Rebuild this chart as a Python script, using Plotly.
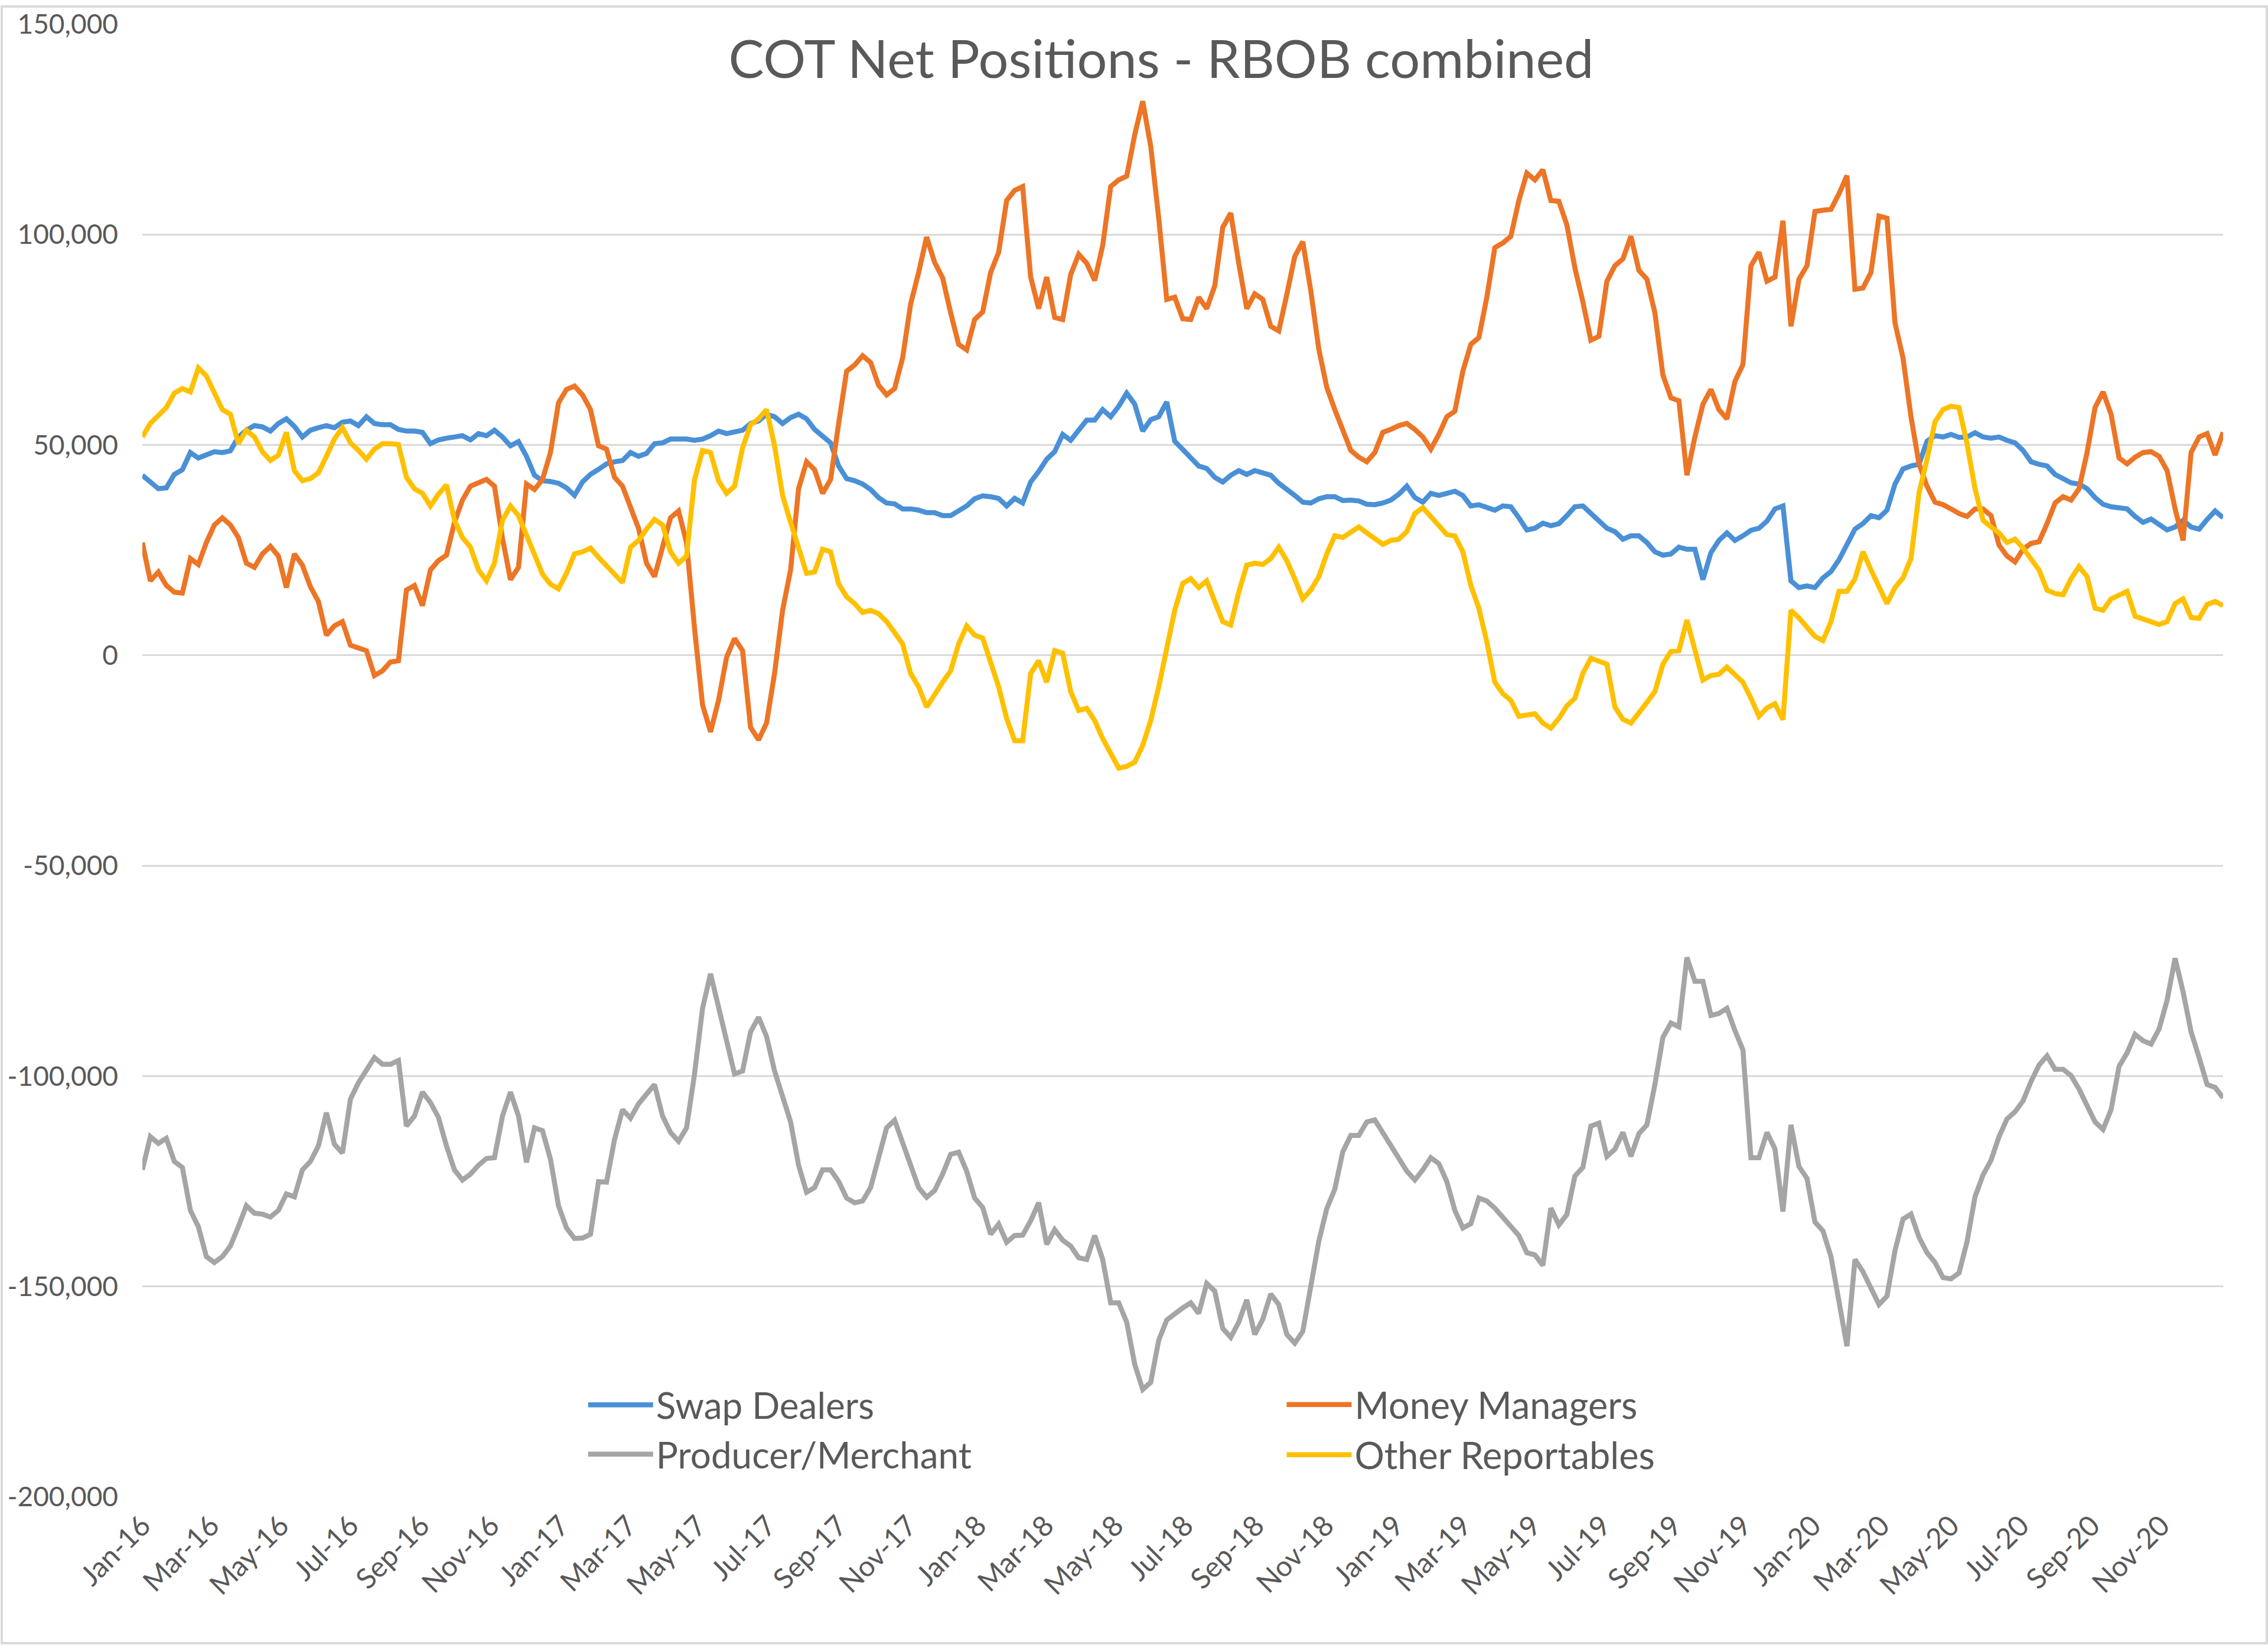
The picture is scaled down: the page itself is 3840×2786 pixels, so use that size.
import pandas as pd
import plotly.graph_objects as go

# Weekly COT report dates (Tuesdays)
start_date = "2016-01-05"
n_weeks = 261

# Net positions, in thousands of contracts
swap_dealers = [
    42.8, 41.2, 39.6, 39.8, 43, 44.1, 48.2, 46.9, 47.5, 48.4,
    48.2, 48.6, 51.9, 53.5, 54.6, 54.3, 53.3, 55.1, 56.2, 54.4,
    51.9, 53.5, 54.1, 54.6, 54.1, 55.4, 55.7, 54.6, 56.7, 55.1,
    54.8, 54.8, 53.7, 53.3, 53.3, 53, 50.3, 51.2, 51.6, 51.8,
    52.2, 51.2, 52.7, 52.2,
    53.5, 51.9, 49.8, 50.8, 47.3, 42.8, 41.5, 41.3, 40.9, 39.8,
    38, 41.2, 43, 44.2, 45.5, 46, 46.3, 48.2, 47.3, 48,
    50.3, 50.5, 51.4, 51.4, 51.4, 51.1, 51.4, 52.2, 53.3, 52.7,
    53, 53.5, 55.1, 55.7, 57.3, 56.7, 55.1, 56.5, 57.3, 56.2,
    53.7, 52.2, 50.5, 45,
    42, 41.5, 40.7, 39.4, 37.5, 36.2, 36, 34.8, 34.8, 34.5,
    33.9, 33.9, 33.2, 33.2, 34.5, 35.5, 37.2, 37.9, 37.7, 37.3,
    35.5, 37.3, 36.2, 41.2, 43.7, 46.6, 48.4, 52.5, 51.1, 53.7,
    55.9, 55.9, 58.4, 56.7, 59.2, 62.3, 59.7, 53.3, 56, 56.7,
    60.2, 50.9, 49,
    46.9, 45, 44.4, 42.3, 41.2, 42.8, 43.9, 43, 43.9, 43.4,
    42.8, 40.9, 39.6, 38, 36.4, 36.2, 37.2, 37.7, 37.7, 36.8,
    36.9, 36.7, 35.9, 35.8, 36.2, 36.9, 38.3, 40.2, 37.5, 36.4,
    38.5, 38, 38.5, 39, 38, 35.5, 35.8, 35.3, 34.5, 35.5,
    35.3, 32.7, 29.8,
    30.2, 31.4, 30.8, 31.3, 33.2, 35.3, 35.5, 33.7, 31.9, 30.2,
    29.4, 27.6, 28.4, 28.4, 26.8, 24.6, 23.8, 24.1, 25.7, 25.2,
    25.2, 18, 24.4, 27.3, 29.1, 27.3, 28.4, 29.7, 30.2, 31.9,
    34.8, 35.5, 17.7, 16.1, 16.5, 16.1, 18.4, 19.9, 22.7, 26.2,
    30, 31.3, 33.2, 32.7,
    34.5, 40.7, 44.3, 45, 45.4, 50.9, 52.2, 51.9, 52.5, 51.8,
    51.9, 52.9, 51.9, 51.6, 51.9, 51.1, 50.5, 48.7, 46, 45.4,
    45, 43, 41.9, 41, 40.7, 39.6, 37.5, 35.9, 35.3, 34.9,
    34.8, 33, 31.6, 32.4, 31, 29.8, 30.5, 32.1, 30.5, 30,
    32.3, 34.3, 32.7,
]

money_managers = [
    26.8, 17.7, 19.8, 16.6, 15, 14.8, 23, 21.6, 26.8, 31,
    32.7, 31, 28, 21.9, 20.9, 24.1, 25.9, 23.6, 16.1, 24.1,
    21.4, 16.3, 12.8, 4.8, 7, 8, 2.4, 1.6, 1.1, -4.8,
    -3.7, -1.6, -1.3, 15.5, 16.6, 11.8, 20.3, 22.5, 23.8, 31.6,
    36.9, 40.2, 40.9, 41.8,
    40.2, 27.8, 18, 20.9, 40.7, 39.4, 41.8, 48.2, 60, 63.2,
    64, 61.9, 58.4, 49.8, 49, 42.3, 40.2, 34.8, 30.2, 21.9,
    18.7, 25.7, 32.7, 34.3, 26.8, 6.4, -11.8, -18.2, -10.7, -0.5,
    4, 1.1, -17.1, -20.1, -16.1, -4.3, 10.7, 20.3, 39.6, 46,
    44.1, 38.5, 41.8, 55,
    67.5, 69, 71.2, 69.6, 64.2, 61.9, 63.4, 70.7, 83.5, 91,
    99.4, 93.4, 89.7, 81.4, 73.9, 72.6, 79.8, 81.6, 91, 95.8,
    108.1, 110.5, 111.4, 89.9, 82.4, 89.9, 80.3, 79.8, 90.5, 95.3,
    93.2, 89.1, 97.4, 111.4, 113, 113.9, 123.7, 131.7, 121, 103.9,
    84.6, 85.1, 80,
    79.8, 85.1, 82.4, 87.8, 101.7, 105.1, 93.2, 82.4, 85.9, 84.6,
    78.2, 77.1, 85.7, 94.8, 98.3, 86.7, 72.8, 63.7, 58.4, 53.3,
    48.7, 47.1, 46, 48.2, 53, 53.7, 54.6, 55.1, 53.7, 51.9,
    49, 52.5, 56.7, 58, 67.5, 73.9, 75.5, 85.1, 96.9, 98,
    99.6, 108.1, 114.6,
    113, 115.4, 108.1, 107.9, 102.3, 92.1, 84, 74.9, 75.8, 88.9,
    92.6, 94.2, 99.6, 91.5, 89.4, 81.4, 66.6, 61.2, 60.5, 42.8,
    51.9, 59.7, 63.2, 58.4, 56.2, 65.1, 69.1, 92.6, 95.8, 88.9,
    89.9, 103.3, 78.2, 89.4, 92.6, 105.5, 105.8, 106, 109.7, 114,
    87, 87.3, 91, 104.4,
    103.9, 79, 70.7, 56.7, 45.5, 40.2, 36.4, 35.8, 34.8, 33.7,
    33, 34.8, 34.8, 33.2, 26.2, 23.6, 22.2, 25.2, 26.6, 27,
    31.3, 36.2, 37.7, 36.9, 39.6, 48.2, 58.9, 62.6, 57.3, 46.9,
    45.5, 47.1, 48.2, 48.4, 47.3, 43.9, 34.8, 27.3, 48.2, 51.9,
    52.7, 47.6, 53,
]

producer_merchant = [
    -122.3, -114.4, -116, -114.8, -120.3, -121.7, -131.9, -135.8, -142.9, -144.3,
    -142.9, -140.4, -135.8, -130.8, -132.6, -132.8, -133.5, -131.9, -128, -128.7,
    -122.3, -120.3, -116.6, -108.7, -116.2, -118.3, -105.5, -101.6, -98.6, -95.6,
    -97.2, -97.2, -96.3, -111.9, -109.5, -103.8, -106.3, -109.8, -116.6, -122.3,
    -124.7, -123.3, -121.2, -119.6,
    -119.4, -109.5, -103.8, -109.5, -120.5, -112.3, -113, -119.8, -130.8, -136.1,
    -138.6, -138.5, -137.6, -125.1, -125.2, -115.1, -108, -110, -106.6, -104.1,
    -102, -109.5, -113.4, -115.5, -112.3, -99.5, -83.9, -75.7, -83.5, -92.4,
    -99.5, -98.8, -89.5, -86, -90.6, -98.8, -104.5, -110.9, -121.2, -127.6,
    -126.5, -122.3, -122.3, -125,
    -129, -130.1, -129.7, -126.5, -119.4, -112.3, -110.5, -115.9, -121.9, -126.5,
    -128.8, -127.2, -123.3, -118.6, -118.1, -122.6, -129, -131.2, -137.6, -135.2,
    -139.5, -137.9, -137.8, -134.4, -130.1, -140, -136.5, -139, -140.4, -143.2,
    -143.6, -137.9, -143.6, -153.9, -153.9, -158.5, -168.5, -174.5, -172.8, -162.8,
    -158, -156.5, -155.1,
    -153.9, -156.4, -149.3, -151.1, -160, -162.1, -158.5, -153.2, -161.4, -157.8,
    -151.8, -154.3, -161.4, -163.5, -160.7, -149.3, -139.3, -131.5, -126.9, -118,
    -114.1, -114.1, -110.9, -110.4, -113.4, -116.6, -119.8, -122.6, -124.7, -122.3,
    -119.4, -120.8, -125.1, -131.9, -136.1, -135.1, -129, -129.7, -131.4, -133.5,
    -135.9, -137.9, -142,
    -142.5, -145, -131.4, -135.4, -132.9, -123.8, -121.7, -111.9, -111.2, -119.1,
    -117.4, -113.4, -119.1, -113.7, -111.6, -102, -90.8, -87.4, -88.3, -71.8,
    -77.5, -77.5, -85.6, -85.1, -83.9, -89.2, -93.8, -119.4, -119.4, -113.4,
    -117.3, -132.2, -111.6, -121.5, -124.3, -134.7, -136.8, -142.9, -154.3, -164.2,
    -143.6, -146.5, -150.4, -154.3,
    -152.3, -141.5, -134, -132.8, -138.3, -142, -144.3, -147.9, -148.2, -146.8,
    -139.4, -128.7, -123.5, -120, -114.4, -110.2, -108.5, -105.9, -101.3, -97.4,
    -95.2, -98.4, -98.4, -99.9, -103.1, -107.3, -110.9, -112.7, -108, -97.7,
    -94.5, -90.1, -91.6, -92.4, -88.8, -82, -72, -80, -89.5, -95.6,
    -102, -102.7, -105.2,
]

other_reportables = [
    51.9, 55.1, 57, 58.9, 62.3, 63.4, 62.6, 68.3, 66.4, 62.3,
    58.4, 57.3, 50.3, 53.5, 51.9, 48.4, 46.3, 47.6, 53, 43.9,
    41.5, 42, 43.4, 47.3, 51.4, 54.1, 50.5, 48.7, 46.6, 49,
    50.3, 50.3, 50.1, 42.3, 39.6, 38.5, 35.5, 38.3, 40.5, 32.1,
    28, 25.7, 20.3, 17.7,
    21.9, 32.1, 35.5, 33.2, 28.4, 24.1, 19.3, 16.9, 15.8, 19.5,
    24.1, 24.6, 25.5, 23.3, 21.4, 19.3, 17.3, 25.7, 27.3, 30,
    32.3, 31, 24.6, 21.9, 23.6, 41.8, 48.7, 48.2, 41.5, 38.5,
    40.2, 49.3, 54.8, 56.2, 58.4, 49.8, 38, 31.6, 25.7, 19.5,
    19.8, 25.2, 24.6, 17,
    13.9, 12.3, 10.2, 10.7, 9.9, 8, 5.4, 2.7, -4.3, -7.5,
    -12.3, -9.1, -6.4, -3.7, 2.7, 7, 4.8, 4.1, -1.6, -7.5,
    -15, -20.3, -20.3, -4.3, -1.3, -6.4, 1.1, 0.5, -8.6, -13.1,
    -12.6, -15.5, -19.8, -23.6, -26.8, -26.4, -25.4, -21.4, -15.5, -7.5,
    2.1, 10.7, 17.1,
    18.2, 16.1, 17.7, 12.8, 8, 7.2, 15, 21.4, 21.9, 21.6,
    23, 25.7, 22.5, 18.2, 13.4, 15.5, 18.7, 24.1, 28.4, 28,
    29.4, 30.5, 29.1, 27.8, 26.4, 27.3, 27.6, 29.4, 33.7, 35.1,
    33, 30.5, 28.7, 28.4, 24.6, 16.6, 11.2, 3.2, -6.4, -9.1,
    -10.7, -14.5, -14.1,
    -13.9, -16.1, -17.3, -15, -12, -10.2, -4.3, -0.7, -1.3, -2.1,
    -12.3, -15.2, -16.1, -13.4, -11.2, -8.6, -2.1, 0.9, 1.1, 8.4,
    1.6, -5.9, -4.8, -4.5, -2.8, -4.7, -6.4, -10.2, -14.5, -12.5,
    -11.5, -15.3, 10.7, 8.9, 6.7, 4.5, 3.5, 8, 15.2, 15.2,
    18.2, 24.6, 20.3, 16,
    12.3, 16.1, 18.4, 23, 38.5, 46.6, 55.5, 58.4, 59.2, 58.9,
    50.3, 39.6, 32.1, 30.5, 29.1, 26.8, 27.6, 25.5, 23, 20.3,
    15.5, 14.7, 14.4, 18.2, 21.1, 18.7, 11.2, 10.7, 13.4, 14.4,
    15.2, 9.3, 8.6, 7.8, 7.3, 8, 12.3, 13.4, 9, 8.8,
    12.1, 12.8, 11.8,
]

# Axis ticks
y_tick_values = [-200, -150, -100, -50, 0, 50, 100, 150]
y_tick_labels = ["-200,000", "-150,000", "-100,000", "-50,000", "0",
                 "50,000", "100,000", "150,000"]
x_tick_labels = ["Jan-16", "Mar-16", "May-16", "Jul-16", "Sep-16", "Nov-16",
                 "Jan-17", "Mar-17", "May-17", "Jul-17", "Sep-17", "Nov-17",
                 "Jan-18", "Mar-18", "May-18", "Jul-18", "Sep-18", "Nov-18",
                 "Jan-19", "Mar-19", "May-19", "Jul-19", "Sep-19", "Nov-19",
                 "Jan-20", "Mar-20", "May-20", "Jul-20", "Sep-20", "Nov-20"]

dates = pd.date_range(start_date, periods=n_weeks, freq="7D")
x_tick_values = pd.date_range("2016-01-01", periods=len(x_tick_labels), freq="2MS") + pd.Timedelta(days=4)

W, H = 3840, 2786
ML, MR, MT, MB = 240, 76, 32, 251
PW, PH = W - ML - MR, H - MT - MB

FONT = "Lato"
TXT = "#595959"
LW = 8.5

fig = go.Figure()
series = [
    ("Swap Dealers", swap_dealers, "#4A90D6", "legend"),
    ("Money Managers", money_managers, "#EC7526", "legend2"),
    ("Producer/Merchant", producer_merchant, "#A5A5A5", "legend"),
    ("Other Reportables", other_reportables, "#FFC000", "legend2"),
]
for name, vals, color, lg in series:
    fig.add_trace(go.Scatter(x=dates, y=vals, mode="lines", name=name,
                             line=dict(color=color, width=LW), legend=lg))

def px_to_paper_x(px):
    return (px - ML) / PW

def px_to_paper_y(py):
    return (H - MB - py) / PH

fig.update_layout(
    width=W, height=H,
    margin=dict(l=ML, r=MR, t=MT, b=MB),
    paper_bgcolor="white", plot_bgcolor="white",
    font=dict(family=FONT, color=TXT),
    title=dict(text="COT Net Positions - RBOB combined",
               font=dict(family=FONT, size=90, color=TXT),
               xref="container", x=1966 / W, xanchor="center",
               yref="container", y=1 - 100 / H, yanchor="middle"),
    xaxis=dict(type="date", range=[dates[0], dates[-1]],
               tickvals=list(x_tick_values), ticktext=x_tick_labels,
               tickangle=-45, tickfont=dict(size=48, color=TXT),
               showgrid=False, zeroline=False, showline=False, ticks="",
               ticklabelstandoff=10),
    yaxis=dict(range=[-200, 150], tickvals=y_tick_values, ticktext=y_tick_labels,
               tickfont=dict(size=46, color=TXT),
               showgrid=True, gridcolor="#D9D9D9", gridwidth=3,
               zeroline=False, showline=False, ticks="",
               ticklabelstandoff=40),
    legend=dict(x=px_to_paper_x(990), y=px_to_paper_y(2421), xanchor="left", yanchor="middle",
                orientation="v", font=dict(family=FONT, size=62, color=TXT),
                bgcolor="rgba(0,0,0,0)", itemwidth=110, tracegroupgap=0),
    legend2=dict(x=px_to_paper_x(2173), y=px_to_paper_y(2421), xanchor="left", yanchor="middle",
                 orientation="v", font=dict(family=FONT, size=63, color=TXT),
                 bgcolor="rgba(0,0,0,0)", itemwidth=110, tracegroupgap=0),
    shapes=[dict(type="rect", xref="paper", yref="paper",
                 x0=px_to_paper_x(2), x1=px_to_paper_x(W - 2),
                 y0=px_to_paper_y(H - 2), y1=px_to_paper_y(2),
                 line=dict(color="#D9D9D9", width=4), fillcolor="rgba(0,0,0,0)",
                 layer="below")],
)

fig.write_html("out.html", config={"displayModeBar": False},
               post_script="document.body.style.margin='0';")
